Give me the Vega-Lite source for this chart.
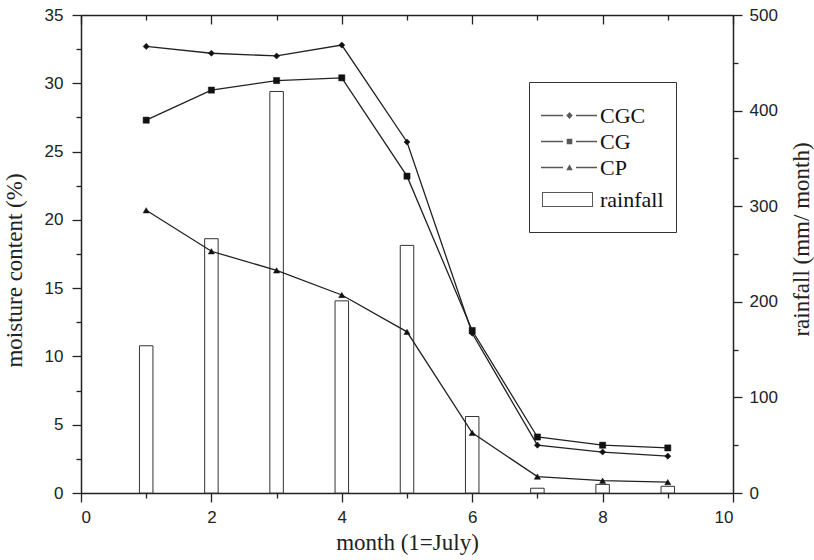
{
  "$schema": "https://vega.github.io/schema/vega-lite/v6.json",
  "width": 652,
  "height": 478,
  "autosize": {"type": "none"},
  "padding": {"left": 81, "top": 15, "right": 81, "bottom": 67},
  "background": "white",
  "config": {
    "view": {"stroke": null},
    "axis": {
      "labelFont": "Liberation Sans",
      "labelFontSize": 17,
      "labelColor": "#222",
      "titleFont": "Liberation Serif",
      "titleFontSize": 23,
      "titleFontWeight": "normal",
      "titleColor": "#222",
      "domainColor": "#222",
      "domainWidth": 1.5,
      "tickColor": "#222",
      "tickWidth": 1.3,
      "grid": false
    }
  },
  "datasets": {
    "moisture": [
      {"month": 1, "series": "CGC", "value": 32.7},
      {"month": 2, "series": "CGC", "value": 32.2},
      {"month": 3, "series": "CGC", "value": 32.0},
      {"month": 4, "series": "CGC", "value": 32.8},
      {"month": 5, "series": "CGC", "value": 25.7},
      {"month": 6, "series": "CGC", "value": 11.7},
      {"month": 7, "series": "CGC", "value": 3.5},
      {"month": 8, "series": "CGC", "value": 3.0},
      {"month": 9, "series": "CGC", "value": 2.7},
      {"month": 1, "series": "CG", "value": 27.3},
      {"month": 2, "series": "CG", "value": 29.5},
      {"month": 3, "series": "CG", "value": 30.2},
      {"month": 4, "series": "CG", "value": 30.4},
      {"month": 5, "series": "CG", "value": 23.2},
      {"month": 6, "series": "CG", "value": 11.9},
      {"month": 7, "series": "CG", "value": 4.1},
      {"month": 8, "series": "CG", "value": 3.5},
      {"month": 9, "series": "CG", "value": 3.3},
      {"month": 1, "series": "CP", "value": 20.7},
      {"month": 2, "series": "CP", "value": 17.7},
      {"month": 3, "series": "CP", "value": 16.3},
      {"month": 4, "series": "CP", "value": 14.5},
      {"month": 5, "series": "CP", "value": 11.8},
      {"month": 6, "series": "CP", "value": 4.4},
      {"month": 7, "series": "CP", "value": 1.2},
      {"month": 8, "series": "CP", "value": 0.9},
      {"month": 9, "series": "CP", "value": 0.8}
    ],
    "rain": [
      {"month": 1, "rainfall": 154},
      {"month": 2, "rainfall": 266},
      {"month": 3, "rainfall": 420},
      {"month": 4, "rainfall": 201},
      {"month": 5, "rainfall": 259},
      {"month": 6, "rainfall": 80},
      {"month": 7, "rainfall": 5},
      {"month": 8, "rainfall": 9},
      {"month": 9, "rainfall": 7}
    ]
  },
  "layer": [
    {
      "layer": [
        {
          "data": {"name": "rain"},
          "mark": {"type": "bar", "size": 13.5, "fill": "white", "stroke": "#333", "strokeWidth": 1},
          "encoding": {
            "x": {
              "field": "month",
              "type": "quantitative",
              "scale": {"domain": [0, 10], "nice": false, "padding": 0},
              "axis": {"orient": "top", "values": [0, 2, 4, 6, 8, 10], "labels": false, "title": null, "tickSize": -9}
            },
            "y": {
              "field": "rainfall",
              "type": "quantitative",
              "scale": {"domain": [0, 500], "nice": false},
              "axis": {
                "orient": "right",
                "values": [0, 100, 200, 300, 400, 500],
                "tickSize": 9,
                "labelPadding": 7,
                "title": "rainfall (mm/ month)",
                "titleAngle": 270,
                "titleBaseline": "top",
                "titlePadding": 13,
                "titleY": 224
              }
            }
          }
        },
        {
          "data": {"values": []},
          "mark": {"type": "bar", "size": 13.5, "fill": "white", "stroke": "#333"},
          "encoding": {
            "x": {
              "field": "month",
              "type": "quantitative",
              "scale": {"domain": [0, 10], "nice": false, "padding": 0},
              "axis": {"orient": "top", "values": [1, 3, 5, 7, 9], "labels": false, "domain": false, "title": null, "tickSize": -5}
            },
            "y": {
              "field": "rainfall",
              "type": "quantitative",
              "scale": {"domain": [0, 500], "nice": false},
              "axis": {"orient": "right", "values": [50, 150, 250, 350, 450], "labels": false, "domain": false, "title": null, "tickSize": 5}
            }
          }
        }
      ],
      "resolve": {"axis": {"x": "independent", "y": "independent"}}
    },
    {
      "layer": [
        {
          "data": {"name": "moisture"},
          "mark": {"type": "line", "stroke": "#222", "strokeWidth": 1.3},
          "encoding": {
            "x": {
              "field": "month",
              "type": "quantitative",
              "scale": {"domain": [0, 10], "nice": false, "padding": 0},
              "axis": {
                "orient": "bottom",
                "values": [0, 2, 4, 6, 8, 10],
                "tickSize": 9,
                "labelPadding": 7,
                "title": "month (1=July)",
                "titlePadding": 6
              }
            },
            "y": {
              "field": "value",
              "type": "quantitative",
              "scale": {"domain": [0, 35], "nice": false},
              "axis": {
                "orient": "left",
                "values": [0, 5, 10, 15, 20, 25, 30, 35],
                "tickSize": 9,
                "labelPadding": 9,
                "title": "moisture content (%)",
                "titlePadding": 18,
                "titleY": 255
              }
            },
            "detail": {"field": "series"}
          }
        },
        {
          "data": {"name": "moisture"},
          "mark": {"type": "point", "filled": true, "fill": "#111", "stroke": "#111", "strokeWidth": 0.5, "size": 38, "opacity": 1},
          "encoding": {
            "x": {"field": "month", "type": "quantitative", "scale": {"domain": [0, 10], "nice": false, "padding": 0}, "axis": null},
            "y": {"field": "value", "type": "quantitative", "scale": {"domain": [0, 35], "nice": false}, "axis": null},
            "shape": {
              "field": "series",
              "type": "nominal",
              "scale": {"domain": ["CGC", "CG", "CP"], "range": ["diamond", "square", "triangle-up"]},
              "legend": null
            }
          }
        },
        {
          "data": {"values": []},
          "mark": {"type": "point", "filled": true, "color": "#111", "size": 196},
          "encoding": {
            "x": {
              "field": "month",
              "type": "quantitative",
              "scale": {"domain": [0, 10], "nice": false, "padding": 0},
              "axis": {"orient": "bottom", "values": [1, 3, 5, 7, 9], "labels": false, "domain": false, "title": null, "tickSize": 5}
            },
            "y": {
              "field": "value",
              "type": "quantitative",
              "scale": {"domain": [0, 35], "nice": false},
              "axis": {"orient": "left", "values": [2.5, 7.5, 12.5, 17.5, 22.5, 27.5, 32.5], "labels": false, "domain": false, "title": null, "tickSize": 5}
            },
            "shape": {
              "field": "series",
              "type": "nominal",
              "scale": {
                "domain": ["CGC", "CG", "CP", "rainfall"],
                "range": [
                  "M-1.571,-0.093H1.571V0.093H-1.571ZM2.5,-0.514L2.957,0L2.5,0.514L2.043,0ZM3.429,-0.093H6.429V0.093H3.429Z",
                  "M-1.571,-0.093H1.571V0.093H-1.571ZM2.1,-0.4H2.9V0.4H2.1ZM3.429,-0.093H6.429V0.093H3.429Z",
                  "M-1.571,-0.093H1.571V0.093H-1.571ZM2.5,-0.47L2.957,0.386H2.043ZM3.429,-0.093H6.429V0.093H3.429Z",
                  "M0,-2.29M0,2.86M-1.429,-1.071H5.857V1.071H-1.429ZM-1.286,-0.929V0.929H5.714V-0.929Z"
                ]
              },
              "legend": {
                "orient": "none",
                "legendX": 448,
                "legendY": 67,
                "title": " ",
                "titleFontSize": 8,
                "titlePadding": 2.5,
                "strokeColor": "#333",
                "fillColor": "white",
                "padding": 12,
                "rowPadding": 4,
                "labelFont": "Liberation Serif",
                "labelFontSize": 22,
                "labelColor": "#111",
                "labelOffset": 37,
                "labelLimit": 200,
                "symbolSize": 196,
                "symbolStrokeWidth": 0,
                "symbolOffset": 0,
                "symbolFillColor": "#111"
              }
            }
          }
        }
      ],
      "resolve": {
        "scale": {"shape": "independent"},
        "axis": {"x": "independent", "y": "independent"}
      }
    }
  ],
  "resolve": {
    "scale": {"y": "independent"},
    "axis": {"x": "independent", "y": "independent"}
  }
}
